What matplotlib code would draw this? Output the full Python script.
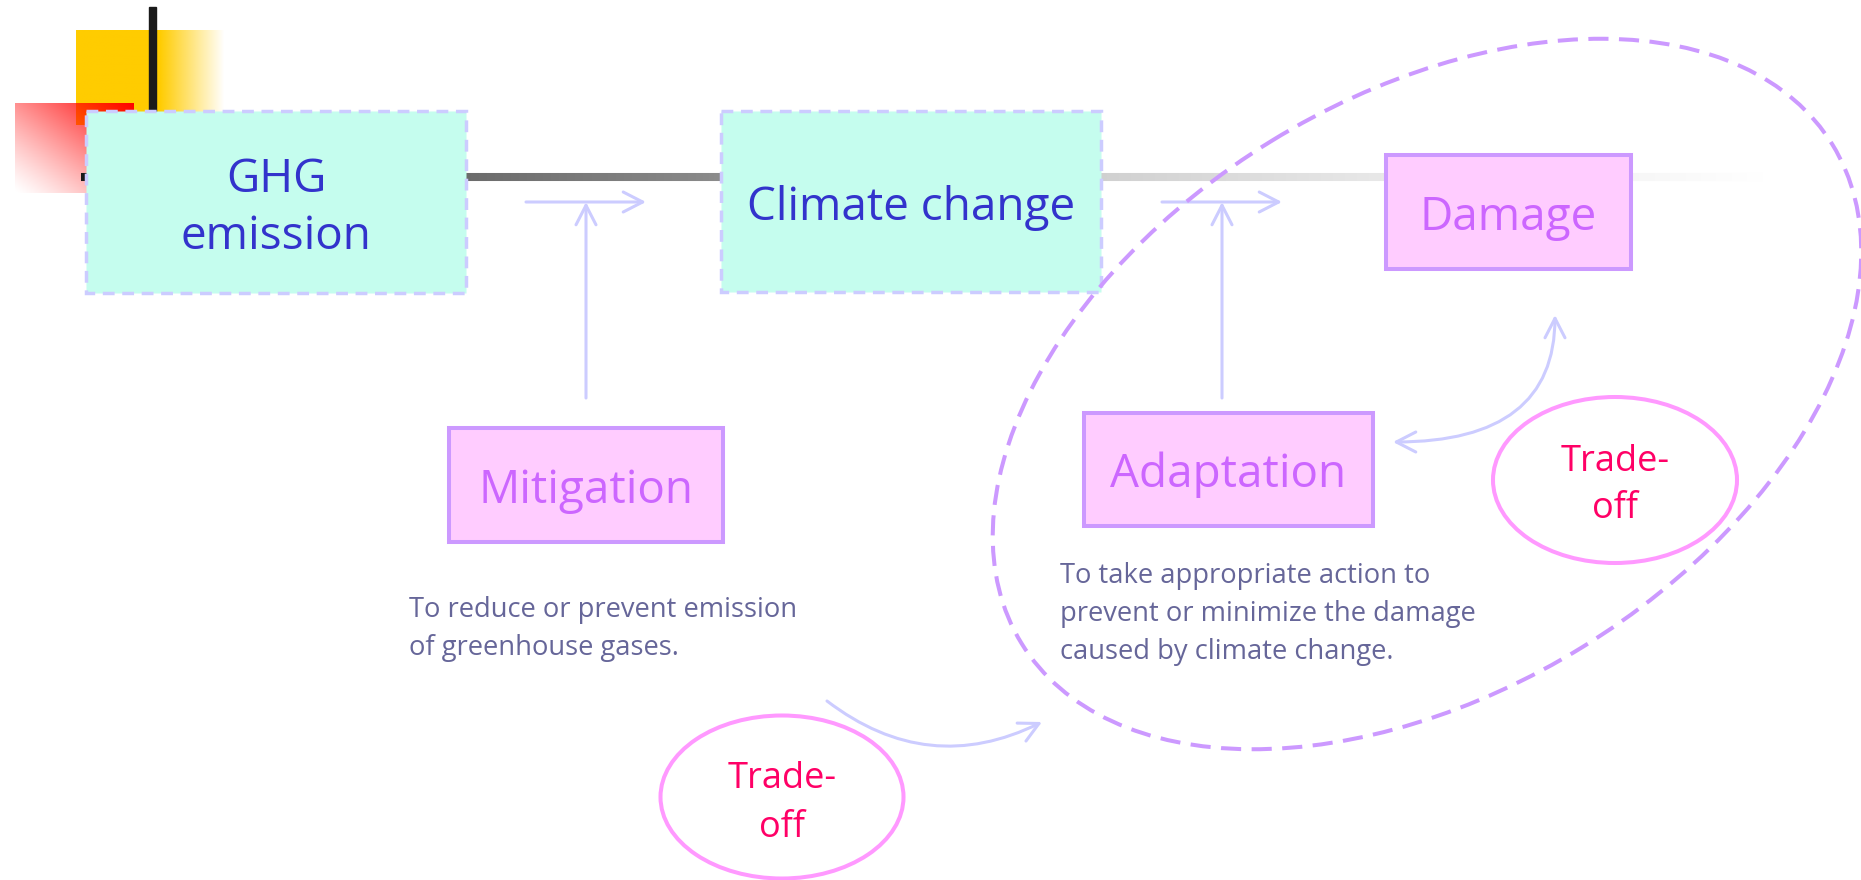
import numpy as np
import matplotlib.pyplot as plt
from matplotlib.patches import Rectangle, Ellipse, FancyArrowPatch
from matplotlib.collections import LineCollection

plt.rcParams['font.family'] = ['Open Sans', 'DejaVu Sans']

W, H = 1861, 880

# chain of boxes: GHG emission -> Climate change -> Damage
chain_lines = [['GHG', 'emission'], ['Climate change'], ['Damage']]
chain_boxes = [(86, 111, 466, 293), (721, 111, 1101, 292), (1386, 155, 1631, 269)]
chain_baselines = [[192, 249], [220], [230]]

# responses
resp_labels = ['Mitigation', 'Adaptation']
resp_boxes = [(449, 428, 723, 542), (1084, 413, 1373, 526)]
resp_baselines = [503, 487]
resp_arrow_x = [586, 1222]

# descriptions
desc_lines = [['To reduce or prevent emission', 'of greenhouse gases.'],
              ['To take appropriate action to', 'prevent or minimize the damage',
               'caused by climate change.']]
desc_left = [409, 1060]
desc_baselines = [[617, 655], [583, 621, 659]]

# trade-off bubbles
trade_text = ['Trade-', 'off']
trade_centers = [(1615, 480), (782, 797)]
trade_sizes = [(244, 166), (243, 163)]
trade_baselines = [[471, 518], [788, 837]]

# grey gradient line behind the chain
grad_x = [81, 466, 700, 1101, 1386, 1631, 1770]
grad_grey = [25, 107, 136, 208, 232, 246, 255]

TEAL = '#C5FDEE'
BLUE_DASH = '#CCCCFF'
PINK = '#FFCCFF'
PINK_EDGE = '#CC99FF'
PINK_TEXT = '#CC66FF'
DESC = '#666699'
ARROW = '#CCCCFF'

fig = plt.figure(figsize=(W / 100, H / 100), dpi=100)
ax = fig.add_axes([0, 0, 1, 1])

# yellow square with fade to the right
yx = np.linspace(76, 225, 150)
alpha = np.clip((225 - yx) / (225 - 160), 0, 1)
yel = np.zeros((10, len(yx), 4))
yel[..., 0] = 1.0
yel[..., 1] = 0.8
yel[..., 3] = alpha
ax.imshow(yel, extent=[76, 225, 125, 30], origin='upper', aspect='auto',
          interpolation='bilinear', zorder=1)

# red square with diagonal fade
rx = np.linspace(0, 1, 120)
ry = np.linspace(0, 1, 90)
gx, gy = np.meshgrid(rx, ry)
t = (gx + (1 - gy)) / 2
red = np.zeros((90, 120, 4))
red[..., 0] = 1.0
red[..., 3] = np.clip(t, 0, 1) ** 1.2
ax.imshow(red, extent=[15, 134, 193, 103], origin='upper', aspect='auto',
          interpolation='bilinear', zorder=1.5)

# black vertical bar
ax.add_patch(Rectangle((149, 7), 7, 110, color='#1a1a1a', zorder=2))

# gradient horizontal line
xs = np.arange(grad_x[0], grad_x[-1] + 1)
greys = np.interp(xs, grad_x, grad_grey) / 255.0
segs = [[(x, 177), (x + 1.2, 177)] for x in xs[:-1]]
cols = [(g, g, g) for g in greys[:-1]]
ax.add_collection(LineCollection(segs, colors=cols, linewidths=5.8,
                                 capstyle='butt', zorder=2))

# chain boxes
for i, (x0, y0, x1, y1) in enumerate(chain_boxes):
    if i < 2:
        ax.add_patch(Rectangle((x0, y0), x1 - x0, y1 - y0, facecolor=TEAL,
                               edgecolor=BLUE_DASH, lw=2.5, ls=(0, (3.4, 2.2)),
                               zorder=3))
        col = '#3333CC'
    else:
        ax.add_patch(Rectangle((x0, y0), x1 - x0, y1 - y0, facecolor=PINK,
                               edgecolor=PINK_EDGE, lw=2.9, zorder=3))
        col = PINK_TEXT
    for line, base in zip(chain_lines[i], chain_baselines[i]):
        ax.text((x0 + x1) / 2, base, line, ha='center', va='baseline',
                fontsize=33, color=col, zorder=4)

# response boxes
for lab, (x0, y0, x1, y1), base in zip(resp_labels, resp_boxes, resp_baselines):
    ax.add_patch(Rectangle((x0, y0), x1 - x0, y1 - y0, facecolor=PINK,
                           edgecolor=PINK_EDGE, lw=2.9, zorder=3))
    ax.text((x0 + x1) / 2, base, lab, ha='center', va='baseline',
            fontsize=33, color=PINK_TEXT, zorder=4)

# straight arrows (vertical from box, horizontal along chain)
akw = dict(arrowstyle='->,head_length=0.7,head_width=0.36', mutation_scale=20,
           color=ARROW, lw=2.2, shrinkA=0, shrinkB=0, zorder=3)
for ax_x in resp_arrow_x:
    ax.add_patch(FancyArrowPatch((ax_x, 398), (ax_x, 202), **akw))
    ax.add_patch(FancyArrowPatch((ax_x - 60, 202), (ax_x + 60, 202), **akw))

# curved arrows
ax.add_patch(FancyArrowPatch((827, 701), (1042, 722),
                             connectionstyle='arc3,rad=0.31', **akw))
ax.add_patch(FancyArrowPatch((1393, 442), (1555, 315),
                             connectionstyle='angle3,angleA=0,angleB=90',
                             arrowstyle='<->,head_length=0.7,head_width=0.36',
                             mutation_scale=20, color=ARROW, lw=2.2,
                             shrinkA=0, shrinkB=0, zorder=3))

# descriptions
for lines, left, bases in zip(desc_lines, desc_left, desc_baselines):
    for line, base in zip(lines, bases):
        ax.text(left, base, line, ha='left', va='baseline', fontsize=19.7,
                color=DESC, zorder=4)

# trade-off bubbles
for (cx, cy), (w, h), bases in zip(trade_centers, trade_sizes, trade_baselines):
    ax.add_patch(Ellipse((cx, cy), w, h, fill=False, edgecolor='#FF99FF',
                         lw=2.9, zorder=3))
    for line, base in zip(trade_text, bases):
        ax.text(cx, base, line, ha='center', va='baseline', fontsize=26,
                color='#FF0066', zorder=4)

# big dashed ellipse around adaptation/damage
ax.add_patch(Ellipse((1427, 394), 952, 594, angle=-31.6, fill=False,
                     edgecolor=PINK_EDGE, lw=2.9, ls=(0, (5, 2.6)), zorder=5))

ax.set_xlim(0, W)
ax.set_ylim(H, 0)
ax.axis('off')

fig.savefig('out.png', dpi=100, facecolor='white')
